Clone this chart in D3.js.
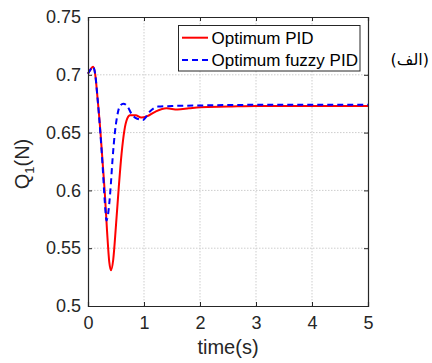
<!DOCTYPE html>
<html><head><meta charset="utf-8">
<script src="https://cdn.jsdelivr.net/npm/d3@7"></script>
<style>body{margin:0;background:#fff;}svg{display:block;font-family:"Liberation Sans",Arial,"DejaVu Sans",sans-serif;}</style>
</head><body>
<svg id="c" width="432" height="363"></svg>
<script>
const seriesNames = ["Optimum PID", "Optimum fuzzy PID"];
const xTicks = [0, 1, 2, 3, 4, 5];
const yTicks = [0.5, 0.55, 0.6, 0.65, 0.7, 0.75];
const yTickLabels = ["0.5", "0.55", "0.6", "0.65", "0.7", "0.75"];
const pidT = [0, 0.05, 0.09, 0.13, 0.17, 0.22, 0.26, 0.30, 0.34, 0.38, 0.41, 0.45, 0.50, 0.55, 0.60, 0.65, 0.70, 0.75, 0.85, 0.95, 1.05, 1.2, 1.4, 1.6, 1.8, 2.0, 2.5, 3, 5];
const pidV = [0.701, 0.705, 0.707, 0.700, 0.680, 0.652, 0.625, 0.598, 0.565, 0.538, 0.531, 0.540, 0.570, 0.603, 0.632, 0.652, 0.662, 0.665, 0.665, 0.663, 0.664, 0.668, 0.671, 0.670, 0.671, 0.672, 0.6725, 0.673, 0.673];
const fuzzyT = [0, 0.05, 0.09, 0.13, 0.17, 0.22, 0.26, 0.30, 0.33, 0.36, 0.40, 0.44, 0.48, 0.52, 0.57, 0.63, 0.70, 0.78, 0.88, 0.98, 1.1, 1.25, 1.5, 2.0, 3, 5];
const fuzzyV = [0.701, 0.705, 0.707, 0.700, 0.680, 0.650, 0.622, 0.590, 0.574, 0.580, 0.600, 0.628, 0.650, 0.664, 0.673, 0.675, 0.673, 0.666, 0.662, 0.661, 0.668, 0.6725, 0.673, 0.6735, 0.674, 0.674];

const svg = d3.select("#c");
const L = 88, R = 368, T = 17, B = 306;
const x = d3.scaleLinear().domain([0, 5]).range([L, R]);
const y = d3.scaleLinear().domain([0.5, 0.75]).range([B, T]);
const axisCol = "#262626";

// grid
const g = svg.append("g");
g.selectAll("line.gx").data(xTicks.slice(1, -1)).join("line")
  .attr("x1", d => x(d)).attr("x2", d => x(d)).attr("y1", T).attr("y2", B)
  .attr("stroke", "#cdcdcd").attr("stroke-dasharray", "1.5,1.5").attr("stroke-width", 1);
g.selectAll("line.gy").data(yTicks.slice(1, -1)).join("line")
  .attr("y1", d => y(d)).attr("y2", d => y(d)).attr("x1", L).attr("x2", R)
  .attr("stroke", "#cdcdcd").attr("stroke-dasharray", "1.5,1.5").attr("stroke-width", 1);

// lines
const line = d3.line().x(d => x(d[0])).y(d => y(d[1])).curve(d3.curveMonotoneX);
const pid = pidT.map((t, i) => [t, pidV[i]]);
const fuzzy = fuzzyT.map((t, i) => [t, fuzzyV[i]]);
svg.append("path").datum(pid).attr("d", line).attr("fill", "none").attr("stroke", "#ff0000").attr("stroke-width", 2);
svg.append("path").datum(fuzzy).attr("d", line).attr("fill", "none").attr("stroke", "#0000ff").attr("stroke-width", 2).attr("stroke-dasharray", "6,4");

// axes
const ax = svg.append("g");
ax.append("g").attr("transform", `translate(0,${B})`)
  .call(d3.axisBottom(x).tickValues(xTicks).tickSize(-4).tickPadding(10).tickFormat(d3.format("d")));
ax.append("g").attr("transform", `translate(0,${T})`)
  .call(d3.axisTop(x).tickValues(xTicks).tickSize(-4).tickFormat(""));
ax.append("g").attr("transform", `translate(${L},0)`)
  .call(d3.axisLeft(y).tickValues(yTicks).tickSize(-4).tickPadding(7).tickFormat((d, i) => yTickLabels[i]));
ax.append("g").attr("transform", `translate(${R},0)`)
  .call(d3.axisRight(y).tickValues(yTicks).tickSize(-4).tickFormat(""));
ax.selectAll("path.domain").attr("stroke", axisCol).attr("stroke-width", 1.2);
ax.selectAll(".tick line").attr("stroke", axisCol);
ax.selectAll(".tick text").attr("fill", axisCol).attr("font-size", 18).attr("font-family", "Liberation Sans, Arial, sans-serif");

// axis labels
svg.append("text").attr("x", (L + R) / 2).attr("y", 354).attr("text-anchor", "middle")
  .attr("font-size", 20).attr("fill", axisCol).text("time(s)");
const yl = svg.append("text").attr("transform", `translate(29,164) rotate(-90)`)
  .attr("text-anchor", "middle").attr("font-size", 20).attr("fill", axisCol);
yl.append("tspan").text("Q");
yl.append("tspan").attr("font-size", 13).attr("dy", 5).text("1");
yl.append("tspan").attr("dy", -5).text("(N)");

// legend
const lg = svg.append("g");
lg.append("rect").attr("x", 178.5).attr("y", 25.5).attr("width", 181.5).attr("height", 45.5)
  .attr("fill", "#fff").attr("stroke", axisCol).attr("stroke-width", 1);
const rows = [37.7, 60];
const cols = ["#ff0000", "#0000ff"];
seriesNames.forEach((n, i) => {
  lg.append("line").attr("x1", 182).attr("x2", 208).attr("y1", rows[i]).attr("y2", rows[i])
    .attr("stroke", cols[i]).attr("stroke-width", 2).attr("stroke-dasharray", i ? "6,4" : null);
  lg.append("text").attr("x", 211.5).attr("y", rows[i] + 6).attr("font-size", 17).attr("fill", "#000").text(n);
});

// Arabic label
svg.append("text").attr("x", 429).attr("y", 65).attr("text-anchor", "end").attr("font-size", 16)
  .attr("font-family", "DejaVu Sans, sans-serif").attr("fill", "#000").text("(الف)");
</script>
</body></html>
